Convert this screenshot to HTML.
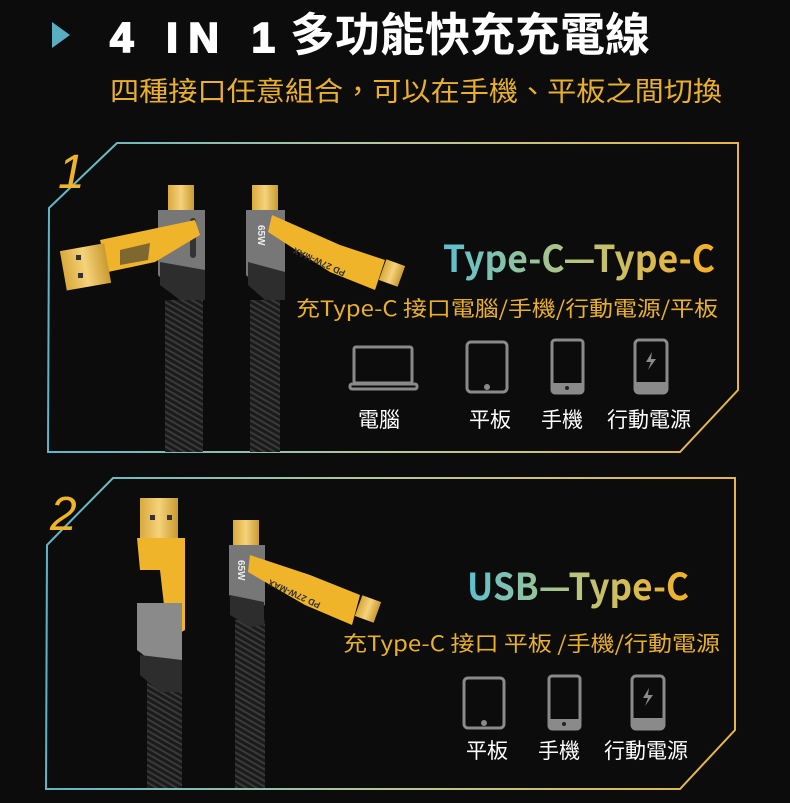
<!DOCTYPE html>
<html><head><meta charset="utf-8">
<style>
html,body{margin:0;padding:0;background:#0c0c0c;}
body{width:790px;height:803px;overflow:hidden;position:relative;font-family:"Liberation Sans","Noto Sans CJK TC",sans-serif;}
svg{position:absolute;left:0;top:0}
</style></head><body>
<svg width="790" height="803" viewBox="0 0 790 803" xmlns="http://www.w3.org/2000/svg">
<defs>
<linearGradient id="bd" x1="0" x2="1" y1="0" y2="0">
<stop offset="0" stop-color="#5fb6c6"/><stop offset="0.5" stop-color="#b8c89a"/><stop offset="1" stop-color="#e8b545"/>
</linearGradient>
<linearGradient id="tx" x1="0" x2="1" y1="0" y2="0">
<stop offset="0" stop-color="#5cc0d0"/><stop offset="0.5" stop-color="#b9c47c"/><stop offset="1" stop-color="#f5b025"/>
</linearGradient>
<pattern id="fab" width="5" height="5" patternUnits="userSpaceOnUse" patternTransform="rotate(-60)">
<rect width="5" height="5" fill="#1b1b1b"/><rect width="2" height="5" fill="#3a3a3a"/>
</pattern>
<linearGradient id="gold" x1="0" x2="1"><stop offset="0" stop-color="#d9a93c"/><stop offset="0.5" stop-color="#f6d27a"/><stop offset="1" stop-color="#c99a30"/></linearGradient>
</defs>

<!-- header -->
<polygon points="52,22 70,35 52,48" fill="#5aaec4"/>
<text x="110" y="52" fill="#fff" font-size="42" font-weight="bold" font-family="Liberation Sans,sans-serif" stroke="#fff" stroke-width="2" textLength="165" lengthAdjust="spacing">4 IN 1</text>
<text x="290" y="51" fill="#fff" font-size="46" font-weight="bold" font-family="Noto Sans CJK TC,sans-serif" textLength="360" lengthAdjust="spacingAndGlyphs">多功能快充充電線</text>
<text x="110" y="101" fill="#e9b02d" font-size="27" font-family="Noto Sans CJK TC,sans-serif" textLength="612" lengthAdjust="spacingAndGlyphs">四種接口任意組合，可以在手機、平板之間切換</text>

<!-- panel 1 -->
<path d="M49,208 L117,143 L738,143 L738,390 L680,452 L48,452 Z" fill="none" stroke="url(#bd)" stroke-width="2"/>
<text x="58" y="188" fill="#f0b428" font-size="48" font-style="italic" font-family="Liberation Sans,sans-serif">1</text>

<rect x="165" y="300" width="38" height="152" fill="url(#fab)"/>
<rect x="168" y="185" width="26" height="30" fill="url(#gold)"/>
<path d="M158,210 L205,210 L205,290 L180,300 L158,275 Z" fill="#777"/>
<path d="M160,262 L205,270 L205,300 L180,300 L160,285 Z" fill="#2d2d2d"/>
<rect x="190" y="218" width="6" height="40" rx="3" fill="#333"/>
<path d="M100,240 L195,220 L200,235 L155,262 L108,272 Z" fill="#f0b42a"/>
<rect x="63" y="247" width="45" height="40" fill="url(#gold)" transform="rotate(-10 85 267)"/>
<rect x="76" y="255" width="5" height="5" fill="#333"/><rect x="78" y="273" width="5" height="5" fill="#333"/>
<path d="M120,250 L150,243 L148,260 L120,265 Z" fill="#333" opacity="0.6"/>

<rect x="250" y="300" width="30" height="152" fill="url(#fab)"/>
<rect x="252" y="185" width="26" height="30" fill="url(#gold)"/>
<path d="M246,210 L285,210 L285,285 L265,295 L246,275 Z" fill="#777"/>
<path d="M248,262 L285,272 L285,300 L265,300 L248,285 Z" fill="#2d2d2d"/>
<text x="258" y="225" fill="#eee" font-size="10" font-weight="bold" transform="rotate(90 258 225)">65W</text>
<path d="M272,215 L340,245 L385,260 L375,290 L330,272 L268,232 Z" fill="#f0b42a"/>
<rect x="382" y="262" width="20" height="22" fill="url(#gold)" transform="rotate(20 392 273)"/>
<text x="310" y="253" fill="#333" font-size="9" font-weight="bold" transform="rotate(205 330 258)">PD 27W-MAX</text>

<text x="443" y="272" fill="url(#tx)" font-size="37" font-weight="bold" font-family="Noto Sans CJK TC,sans-serif" textLength="272" lengthAdjust="spacingAndGlyphs">Type-C—Type-C</text>
<text x="296" y="316" fill="#e9b02d" font-size="21" font-family="Noto Sans CJK TC,sans-serif" textLength="422" lengthAdjust="spacingAndGlyphs">充Type-C 接口電腦/手機/行動電源/平板</text>

<g fill="none" stroke="#8a8a8a" stroke-width="3">
<rect x="354" y="347" width="58" height="36" rx="2"/>
<rect x="350" y="384" width="67" height="5" rx="2"/>
<rect x="467" y="342" width="40" height="50" rx="4"/>
<rect x="552" y="340" width="31" height="53" rx="3"/>
<rect x="635" y="340" width="32" height="53" rx="4"/>
</g>
<circle cx="487" cy="387" r="3" fill="#8a8a8a"/>
<rect x="552" y="383" width="31" height="10" fill="#8a8a8a"/><circle cx="567" cy="388" r="2" fill="#222"/>
<rect x="635" y="382" width="32" height="11" fill="#8a8a8a"/>
<path d="M652,352 L646,362 L651,362 L648,370 L656,359 L651,359 Z" fill="#8a8a8a"/>
<g fill="#fff" font-size="21" font-family="Noto Sans CJK TC,sans-serif">
<text x="358" y="427">電腦</text>
<text x="469" y="427">平板</text>
<text x="541" y="427">手機</text>
<text x="607" y="427">行動電源</text>
</g>

<!-- panel 2 -->
<path d="M47,545 L113,478 L735,478 L735,730 L680,789 L46,789 Z" fill="none" stroke="url(#bd)" stroke-width="2"/>
<text x="50" y="530" fill="#f0b428" font-size="48" font-style="italic" font-family="Liberation Sans,sans-serif">2</text>

<rect x="147" y="680" width="35" height="108" fill="url(#fab)"/>
<rect x="140" y="498" width="38" height="40" fill="url(#gold)"/>
<rect x="150" y="515" width="5" height="5" fill="#333"/><rect x="167" y="515" width="5" height="5" fill="#333"/>
<path d="M137,538 L185,538 L185,630 L168,640 L160,570 L140,570 Z" fill="#f0b42a"/>
<path d="M137,603 L182,603 L182,665 L160,668 L137,650 Z" fill="#8a8a8a"/>
<path d="M140,655 L182,660 L182,692 L160,692 L140,675 Z" fill="#2d2d2d"/>

<rect x="235" y="620" width="30" height="168" fill="url(#fab)"/>
<rect x="233" y="520" width="26" height="25" fill="url(#gold)"/>
<path d="M229,545 L265,545 L265,605 L250,612 L229,595 Z" fill="#777"/>
<path d="M230,595 L264,602 L264,625 L250,627 L230,615 Z" fill="#2d2d2d"/>
<text x="238" y="560" fill="#eee" font-size="10" font-weight="bold" transform="rotate(90 238 560)">65W</text>
<path d="M250,555 L310,575 L360,595 L352,625 L305,605 L248,572 Z" fill="#f0b42a"/>
<rect x="358" y="598" width="20" height="22" fill="url(#gold)" transform="rotate(20 368 609)"/>
<text x="285" y="585" fill="#333" font-size="9" font-weight="bold" transform="rotate(205 305 590)">PD 27W-MAX</text>

<text x="467" y="600" fill="url(#tx)" font-size="37" font-weight="bold" font-family="Noto Sans CJK TC,sans-serif" textLength="222" lengthAdjust="spacingAndGlyphs">USB—Type-C</text>
<text x="343" y="651" fill="#e9b02d" font-size="21" font-family="Noto Sans CJK TC,sans-serif" textLength="377" lengthAdjust="spacingAndGlyphs">充Type-C 接口 平板 /手機/行動電源</text>

<g fill="none" stroke="#8a8a8a" stroke-width="3">
<rect x="464" y="678" width="40" height="50" rx="4"/>
<rect x="549" y="676" width="31" height="53" rx="3"/>
<rect x="632" y="676" width="32" height="53" rx="4"/>
</g>
<circle cx="484" cy="723" r="3" fill="#8a8a8a"/>
<rect x="549" y="719" width="31" height="10" fill="#8a8a8a"/><circle cx="564" cy="724" r="2" fill="#222"/>
<rect x="632" y="718" width="32" height="11" fill="#8a8a8a"/>
<path d="M649,688 L643,698 L648,698 L645,706 L653,695 L648,695 Z" fill="#8a8a8a"/>
<g fill="#fff" font-size="21" font-family="Noto Sans CJK TC,sans-serif">
<text x="466" y="758">平板</text>
<text x="538" y="758">手機</text>
<text x="604" y="758">行動電源</text>
</g>
</svg>
</body></html>
